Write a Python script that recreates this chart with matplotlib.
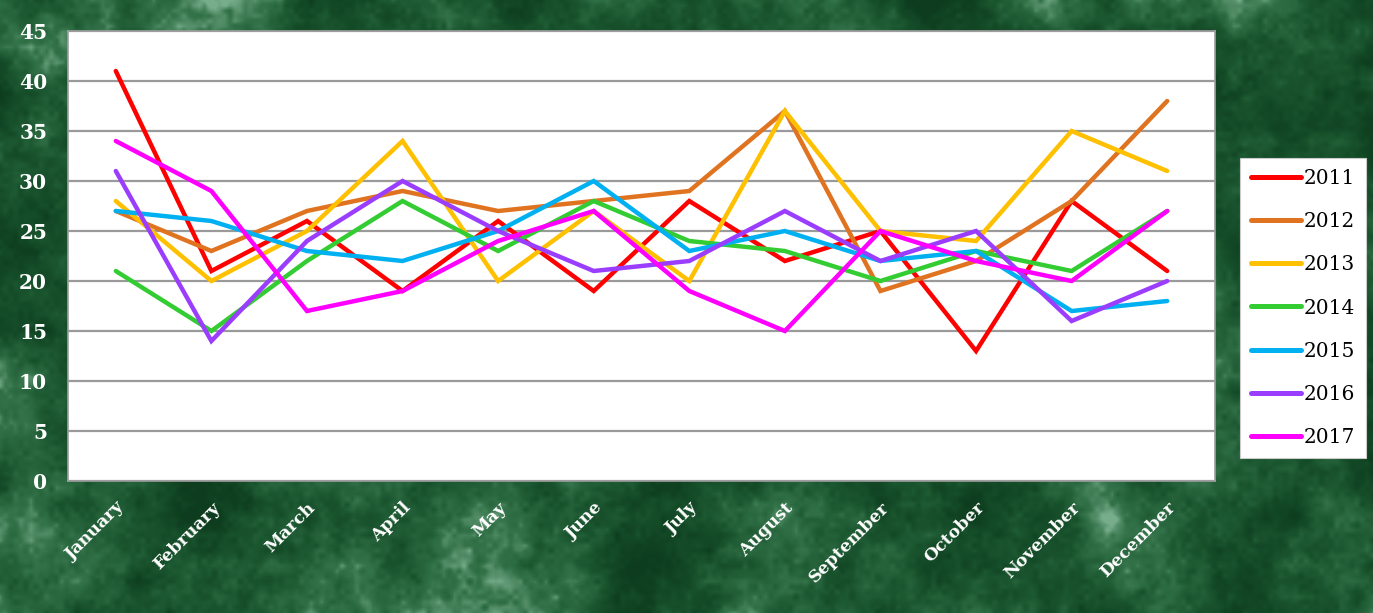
import numpy as np
import matplotlib
matplotlib.use("Agg")
import matplotlib.pyplot as plt
from matplotlib.colors import LinearSegmentedColormap

months = ["January", "February", "March", "April", "May", "June", "July",
          "August", "September", "October", "November", "December"]

y2011 = [41, 21, 26, 19, 26, 19, 28, 22, 25, 13, 28, 21]
y2012 = [27, 23, 27, 29, 27, 28, 29, 37, 19, 22, 28, 38]
y2013 = [28, 20, 25, 34, 20, 27, 20, 37, 25, 24, 35, 31]
y2014 = [21, 15, 22, 28, 23, 28, 24, 23, 20, 23, 21, 27]
y2015 = [27, 26, 23, 22, 25, 30, 23, 25, 22, 23, 17, 18]
y2016 = [31, 14, 24, 30, 25, 21, 22, 27, 22, 25, 16, 20]
y2017 = [34, 29, 17, 19, 24, 27, 19, 15, 25, 22, 20, 27]

series_names = ["2011", "2012", "2013", "2014", "2015", "2016", "2017"]
series_values = [y2011, y2012, y2013, y2014, y2015, y2016, y2017]
colors = ["#FF0000", "#E07320", "#FFC000", "#33CC33", "#00B0F0", "#9B3DFF", "#FF00FF"]
yticks = list(range(0, 50, 5))

W, H = 1373, 613
fig = plt.figure(figsize=(W / 100, H / 100), dpi=100)


# green marble backdrop
def upsample(a, shape):
    h, w = a.shape
    ys = np.linspace(0, h - 1, shape[0])
    xs = np.linspace(0, w - 1, shape[1])
    tmp = np.array([np.interp(xs, np.arange(w), row) for row in a])
    return np.array([np.interp(ys, np.arange(h), col) for col in tmp.T]).T


rng = np.random.default_rng(11)
field = np.zeros((H, W))
for cells, weight in [((6, 14), 1.0), ((14, 32), 0.6), ((40, 90), 0.4), ((120, 270), 0.25)]:
    field += weight * upsample(rng.standard_normal(cells), (H, W))
field = (field - field.min()) / (field.max() - field.min())
field = np.clip((field - 0.2) / 0.7, 0, 1) ** 1.4
marble = LinearSegmentedColormap.from_list(
    "marble", ["#0d3d1e", "#1b5730", "#35744b", "#78ad8c"])
bg = fig.add_axes([0, 0, 1, 1], zorder=-5)
bg.imshow(field, cmap=marble, aspect="auto", interpolation="bilinear")
bg.set_axis_off()

ax = fig.add_axes([68 / W, 1 - 481 / H, (1215 - 68) / W, (481 - 31) / H])
ax.set_facecolor("white")
x = np.arange(len(months))
for name, vals, c in zip(series_names, series_values, colors):
    ax.plot(x, vals, color=c, lw=3.2, label=name, solid_joinstyle="miter",
            solid_capstyle="round")

ax.set_xlim(-0.5, len(months) - 0.5)
ax.set_ylim(0, 45)
ax.set_yticks(yticks)
ax.yaxis.grid(True, color="#9a9a9a", lw=1.6)
ax.set_axisbelow(True)
ax.tick_params(axis="both", length=0)
ax.tick_params(axis="y", pad=15)
for s in ax.spines.values():
    s.set_color("#a0a0a0")
    s.set_linewidth(1.2)

serif_bold = dict(family="DejaVu Serif", weight="bold", color="white")
ax.set_yticklabels([str(v) for v in yticks], fontsize=14.5, **serif_bold)
ax.set_xticks(x)
ax.set_xticklabels(months, rotation=45, ha="right", rotation_mode="anchor",
                   fontsize=12.5, **serif_bold)
ax.tick_params(axis="x", pad=13)

leg = fig.legend(loc="center left", bbox_to_anchor=(1240 / W, 1 - 308 / H),
                 frameon=True, fancybox=False, framealpha=1,
                 prop=dict(family="DejaVu Serif", size=14.5),
                 handlelength=2.5, handletextpad=0.1, labelspacing=1.2,
                 borderpad=0.55, borderaxespad=0)
leg.get_frame().set_edgecolor("#cccccc")
leg.get_frame().set_linewidth(0.8)
for line in leg.get_lines():
    line.set_linewidth(3.6)
    line.set_solid_capstyle("round")

fig.savefig("out.png", dpi=100)
